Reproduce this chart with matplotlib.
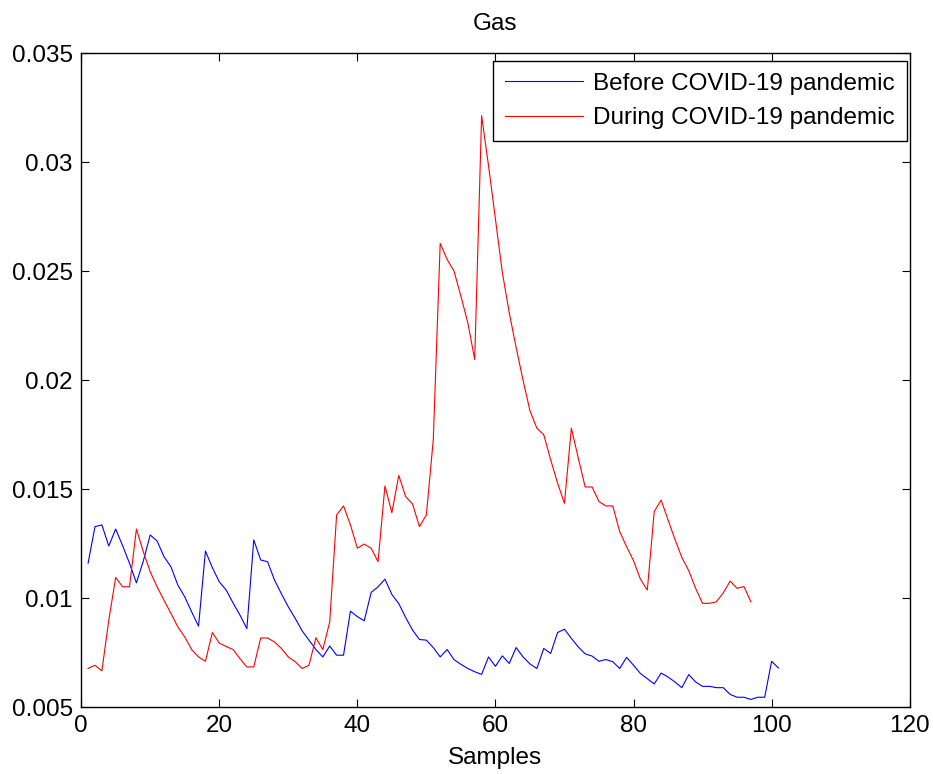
import matplotlib
matplotlib.use("Agg")
import matplotlib.pyplot as plt
from matplotlib.ticker import FuncFormatter

plt.rcParams["font.family"] = ["Liberation Sans", "DejaVu Sans"]

# values, in units of 1e-3
before_vals = [
    11.6, 13.28, 13.36, 12.39, 13.17, 12.41, 11.6, 10.7, 11.7, 12.9,
    12.62, 11.9, 11.44, 10.6, 10.06, 9.37, 8.71, 12.16, 11.4, 10.75,
    10.37, 9.78, 9.22, 8.6, 12.67, 11.75, 11.67, 10.83, 10.2, 9.6,
    9.07, 8.5, 8.07, 7.64, 7.3, 7.8, 7.38, 7.38, 9.4, 9.15,
    8.96, 10.26, 10.52, 10.87, 10.17, 9.75, 9.11, 8.53, 8.1, 8.07,
    7.73, 7.3, 7.64, 7.18, 6.96, 6.77, 6.62, 6.5, 7.3, 6.87,
    7.35, 7.0, 7.73, 7.3, 6.98, 6.77, 7.69, 7.46, 8.42, 8.57,
    8.15, 7.76, 7.44, 7.34, 7.1, 7.18, 7.08, 6.77, 7.28, 6.92,
    6.54, 6.3, 6.06, 6.56, 6.38, 6.15, 5.89, 6.49, 6.15, 5.95,
    5.95, 5.89, 5.89, 5.58, 5.45, 5.45, 5.35, 5.45, 5.45, 7.1,
    6.79,
]
during_vals = [
    6.77, 6.92, 6.66, 8.99, 10.95, 10.52, 10.52, 13.17, 12.13, 11.21,
    10.52, 9.9, 9.3, 8.68, 8.22, 7.64, 7.3, 7.1, 8.42, 7.94,
    7.78, 7.64, 7.22, 6.84, 6.84, 8.17, 8.17, 7.99, 7.69, 7.3,
    7.08, 6.77, 6.92, 8.18, 7.64, 8.91, 13.82, 14.23, 13.36, 12.29,
    12.48, 12.29, 11.67, 15.15, 13.92, 15.63, 14.66, 14.32, 13.28, 13.82,
    17.27, 26.28, 25.55, 25.01, 23.86, 22.64, 20.95, 32.14, 29.85, 27.4,
    24.95, 23.1, 21.5, 20.0, 18.6, 17.8, 17.5, 16.35, 15.28, 14.35,
    17.8, 16.43, 15.1, 15.1, 14.43, 14.23, 14.23, 13.05, 12.36, 11.72,
    10.87, 10.37, 13.97, 14.5, 13.59, 12.7, 11.87, 11.26, 10.45, 9.76,
    9.76, 9.83, 10.24, 10.78, 10.45, 10.53, 9.83,
]
before = [v / 1000 for v in before_vals]
during = [v / 1000 for v in during_vals]
x_before = list(range(1, len(before) + 1))
x_during = list(range(1, len(during) + 1))

fs = 17.5

fig = plt.figure(figsize=(9.33, 7.74), dpi=100)
ax = fig.add_axes([0.087, 0.0865, 0.888, 0.8445])

ax.plot(x_before, before, color="#0000ff", lw=0.8, label="Before COVID-19 pandemic")
ax.plot(x_during, during, color="#ff0000", lw=0.8, label="During COVID-19 pandemic")

ax.set_xlim(0, 120)
ax.set_ylim(0.005, 0.035)
ax.set_xticks(range(0, 121, 20))
ax.set_yticks([0.005, 0.01, 0.015, 0.02, 0.025, 0.03, 0.035])
ax.yaxis.set_major_formatter(FuncFormatter(lambda v, p: f"{v:g}"))
ax.tick_params(direction="in", top=True, right=True, length=5.5, width=0.8,
               labelsize=fs, pad=6)
for s in ax.spines.values():
    s.set_linewidth(1.0)

ax.set_xlabel("Samples", fontsize=fs, labelpad=7)
ax.set_title("Gas", fontsize=fs, pad=17)

leg = ax.legend(loc="upper right", bbox_to_anchor=(906.7 / 933, 1 - 60.7 / 774),
                bbox_transform=fig.transFigure, borderaxespad=0,
                fontsize=fs, fancybox=False, framealpha=1, edgecolor="black",
                handlelength=3.2, handletextpad=0.4, labelspacing=0.5,
                borderpad=0.5)
leg.get_frame().set_linewidth(1.0)

fig.savefig("out.png", dpi=100)
